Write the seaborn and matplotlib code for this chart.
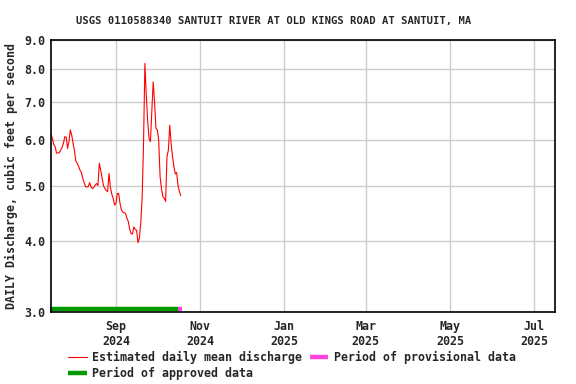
import numpy as np
import pandas as pd
import seaborn as sns
import matplotlib.pyplot as plt
import matplotlib.dates as mdates
import matplotlib.transforms as mtransforms
from matplotlib.ticker import FixedLocator, NullLocator

TITLE = 'USGS 0110588340 SANTUIT RIVER AT OLD KINGS ROAD AT SANTUIT, MA'
YLABEL = 'DAILY Discharge, cubic feet per second'

start_date = '2024-07-16'
discharge = [
    6.15, 6.05, 5.90, 5.85, 5.70, 5.70, 5.71, 5.77, 5.83, 5.93,
    6.09, 6.08, 5.81, 5.97, 6.26, 6.13, 5.93, 5.75, 5.52, 5.47,
    5.40, 5.32, 5.27, 5.15, 5.06, 4.98, 4.97, 4.98, 5.06, 4.97,
    4.94, 4.96, 5.01, 5.04, 5.00, 5.47, 5.32, 5.15, 5.00, 4.94,
    4.90, 4.88, 5.25, 4.97, 4.83, 4.75, 4.62, 4.65, 4.84, 4.84,
    4.65, 4.53, 4.49, 4.48, 4.47, 4.38, 4.32, 4.19, 4.12, 4.11,
    4.23, 4.19, 4.17, 3.97, 4.04, 4.30, 4.75, 5.90, 8.19, 7.20,
    6.50, 6.05, 5.97, 6.74, 7.60, 7.00, 6.30, 6.26, 6.00, 5.18,
    4.94, 4.78, 4.75, 4.69, 5.62, 5.77, 6.38, 5.93, 5.62, 5.40,
    5.24, 5.27, 5.00, 4.88, 4.80,
]
approved_period = ['2024-07-15', '2024-10-16']
provisional_period = ['2024-10-16', '2024-10-19']

y_ticks = [3.0, 4.0, 5.0, 6.0, 7.0, 8.0, 9.0]
x_ticks = ['2024-09-01', '2024-11-01', '2025-01-01', '2025-03-01', '2025-05-01', '2025-07-01']
x_range = ['2024-07-16', '2025-07-16']

sns.set_style('white')
plt.rcParams['font.family'] = ['DejaVu Sans Mono']
plt.rcParams['font.weight'] = 'bold'

df = pd.DataFrame({
    'date': pd.date_range(start_date, periods=len(discharge), freq='D'),
    'discharge': discharge,
})

fig = plt.figure(figsize=(5.76, 3.84), dpi=100)
ax = fig.add_axes([51 / 576, 1 - 312 / 384, 504 / 576, 272 / 384])

sns.lineplot(data=df, x='date', y='discharge', ax=ax, color='#ff0000',
             linewidth=0.8, label='Estimated daily mean discharge')

ax.set_yscale('log')
ax.set_ylim(3.0, 9.0)
ax.yaxis.set_major_locator(FixedLocator(y_ticks))
ax.yaxis.set_minor_locator(NullLocator())
ax.set_yticklabels(['%.1f' % t for t in y_ticks])

ax.set_xlim(pd.to_datetime(x_range[0]), pd.to_datetime(x_range[1]))
ax.set_xticks(pd.to_datetime(x_ticks))
ax.xaxis.set_major_formatter(mdates.DateFormatter('%b\n%Y'))

ax.grid(True, color='#cccccc', linewidth=1.0)
ax.set_axisbelow(True)
for s in ax.spines.values():
    s.set_color('black')
    s.set_linewidth(1.2)
ax.tick_params(axis='both', length=0, labelsize=8.4, pad=4)
ax.tick_params(axis='x', pad=6)
for lab in ax.get_xticklabels() + ax.get_yticklabels():
    lab.set_fontweight('bold')

trans = mtransforms.blended_transform_factory(ax.transData, ax.transAxes)
ax.plot(pd.to_datetime(approved_period), [0.012, 0.012], color='#009900',
        linewidth=3.2, solid_capstyle='butt', transform=trans, clip_on=False,
        label='Period of approved data')
ax.plot(pd.to_datetime(provisional_period), [0.012, 0.012], color='#ff44dd',
        linewidth=3.2, solid_capstyle='butt', transform=trans, clip_on=False,
        label='Period of provisional data')

ax.set_xlabel('')
ax.set_ylabel(YLABEL, fontsize=8.4, fontweight='bold')
ax.yaxis.set_label_coords(-0.066, 0.5)
fig.suptitle(TITLE, x=0.475, y=0.958, fontsize=7.6, fontweight='bold')

handles, labels = ax.get_legend_handles_labels()
ax.get_legend().remove()
fig.legend(handles, labels, ncol=2, loc='upper left',
           bbox_to_anchor=(68 / 576, 1 - 351 / 384), frameon=False,
           prop={'size': 8.4, 'weight': 'bold'}, handlelength=1.6,
           handletextpad=0.5, columnspacing=0.6, labelspacing=0.25,
           borderaxespad=0, borderpad=0)

fig.savefig('out.png', dpi=100)
